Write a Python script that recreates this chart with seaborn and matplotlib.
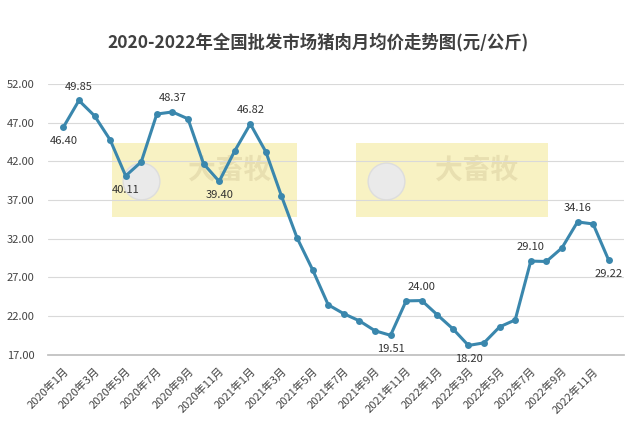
import matplotlib
matplotlib.use('Agg')
import matplotlib.pyplot as plt
import seaborn as sns
import pandas as pd

sns.set_theme(style='white')
plt.rcParams['font.family'] = ['Noto Sans CJK SC', 'DejaVu Sans']

months = [f'{y}年{m}月' for y in (2020, 2021, 2022) for m in range(1, 13)]
prices = [46.40, 49.85, 47.87, 44.77, 40.11, 41.92, 48.10, 48.37, 47.48, 41.67, 39.40, 43.34,
          46.82, 43.20, 37.50, 32.10, 27.97, 23.45, 22.30, 21.38, 20.10, 19.51, 23.96, 24.00,
          22.16, 20.35, 18.20, 18.54, 20.60, 21.50, 29.10, 29.05, 30.80, 34.16, 33.90, 29.22]
labeled = {0: 'below', 1: 'above', 4: 'below', 7: 'above', 10: 'below', 12: 'above',
           21: 'below', 23: 'above', 26: 'below', 30: 'above', 33: 'above', 35: 'below'}

df = pd.DataFrame({'idx': range(len(months)), 'price': prices})

fig, ax = plt.subplots(figsize=(6.37, 4.30), dpi=100)
fig.subplots_adjust(left=0.075, right=0.98, top=0.805, bottom=0.175)

# watermark boxes
for x0, x1 in ((3.1, 15.0), (18.8, 31.1)):
    ax.axvspan(x0, x1, ymin=(34.8 - 17) / 35, ymax=(44.3 - 17) / 35, color='#f7efb4', alpha=0.8, lw=0, zorder=0)
    ax.scatter([x0 + 1.9], [39.5], s=700, color='#eaeaea', edgecolor='#dddddd', zorder=0.5)
    ax.text((x0 + x1) / 2 + 1.6, 40.8, '大畜牧', fontsize=20, fontweight='bold', color='#e8dfb0',
            ha='center', va='center', zorder=0)

sns.lineplot(data=df, x='idx', y='price', ax=ax, color='#3a87ad', lw=2.2,
             marker='o', markersize=5, markeredgewidth=0, zorder=3)

for i, pos in labeled.items():
    dy = 10 if pos == 'above' else -10
    ax.annotate(f'{prices[i]:.2f}', (i, prices[i]), xytext=(0, dy), textcoords='offset points',
                ha='center', va='center', fontsize=8, color='#333333', zorder=4)

ax.set_ylim(17, 52)
ax.set_yticks(range(17, 53, 5))
ax.set_yticklabels([f'{v:.2f}' for v in range(17, 53, 5)], fontsize=8, color='#444444')
ax.set_xlim(-1, 36)
ax.set_xticks(range(0, 36, 2))
ax.set_xticklabels(months[::2], rotation=45, ha='right', rotation_mode='anchor', fontsize=8, color='#444444')
ax.tick_params(axis='x', pad=2)
ax.grid(axis='y', color='#d9d9d9', lw=0.8)
ax.set_xlabel('')
ax.set_ylabel('')
for s in ('top', 'right', 'left'):
    ax.spines[s].set_visible(False)
ax.spines['bottom'].set_color('#bfbfbf')
fig.suptitle('2020-2022年全国批发市场猪肉月均价走势图(元/公斤)', fontsize=12.5, fontweight='bold',
             color='#404040', y=0.925)
fig.savefig('out.png')
